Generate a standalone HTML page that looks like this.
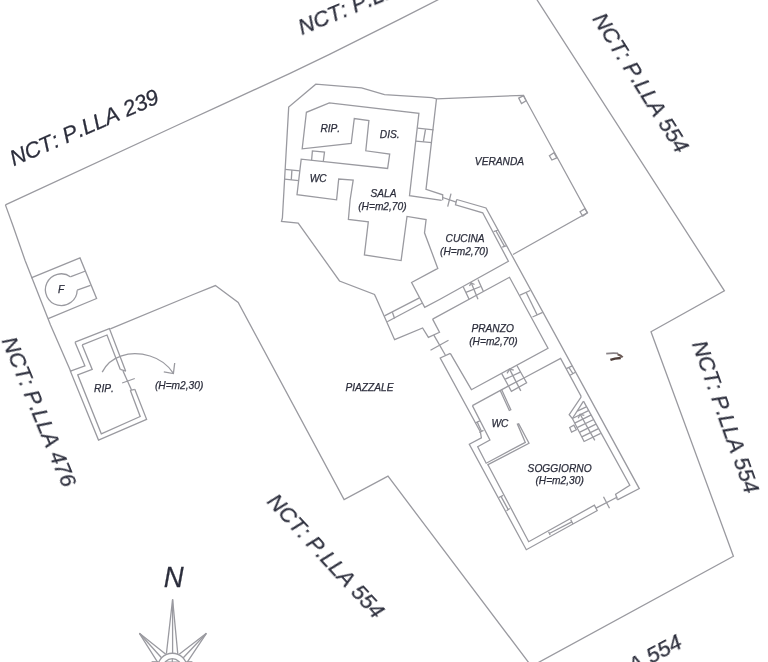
<!DOCTYPE html>
<html><head><meta charset="utf-8"><style>
html,body{margin:0;padding:0;background:#fff;}
svg{display:block;}
text{font-family:"Liberation Sans",sans-serif;fill:#2c2e3c;font-kerning:none;stroke:#2c2e3c;stroke-width:0.25px;}
</style></head><body>
<svg width="768" height="662" viewBox="0 0 768 662">
<defs><filter id="f" filterUnits="userSpaceOnUse" x="0" y="0" width="768" height="662"><feOffset dx="0" dy="0"/></filter></defs>
<rect width="768" height="662" fill="#fff"/>
<g fill="none" stroke="#9a9aa0" stroke-width="1.3" stroke-linejoin="miter">
<polyline points="5.4,204.9 180.0,124.0 220.0,105.7 290.0,73.4 330.0,54.2 400.0,19.1 439.5,-1.0"/>
<polyline points="5.4,204.9 12.7,225.0 25.0,260.2 50.5,325.0 71.0,372.0"/>
<polyline points="536.5,-1.0 724.4,290.8 651.0,331.8 733.4,556.2 537.5,663.0"/>
<polyline points="110.3,328.8 192.0,295.0 215.4,285.6 238.2,302.5 344.1,499.6 388.0,476.2 529.0,663.0"/>
<polyline points="31.2,277.8 80.0,257.9 96.6,298.5 48.2,318.6"/>
<polyline points="70.9,276.6 85.6,271.0"/>
<polyline points="77.1,290.2 90.5,285.4"/>
<polyline points="75.0,342.2 109.4,328.6 125.7,371.2"/>
<polyline points="134.8,389.3 146.6,419.3 98.5,440.1 70.4,371.2 84.9,365.8 75.0,342.2"/>
<polyline points="82.2,344.9 107.0,335.0 120.3,369.4"/>
<polyline points="130.3,390.3 140.2,416.5 101.3,433.8 77.7,374.8 92.2,369.4 82.2,344.9"/>
<polyline points="120.3,369.4 125.7,371.2"/>
<polyline points="130.3,390.3 134.8,389.3"/>
<polyline points="123.0,371.0 131.5,390.0"/>
<polyline points="122.1,383.0 134.8,378.5"/>
<polyline points="432.0,97.7 384.5,94.6 361.6,87.9 315.8,84.2 288.7,107.1 282.4,218.0 281.5,221.5 298.2,223.0 339.5,281.0 374.5,294.5 375.5,296.6 394.6,339.7 422.6,328.0 428.4,337.4 439.5,332.3 432.6,319.1"/>
<polyline points="432.0,97.7 436.5,98.8 523.3,95.3 587.4,212.8 513.0,254.5"/>
<polyline points="436.5,98.8 426.0,189.4 442.7,194.8 442.7,200.2"/>
<polyline points="456.7,199.5 486.0,208.0 639.3,488.6 617.4,499.8"/>
<polyline points="597.4,510.5 526.3,549.7 469.3,444.2 481.4,437.8 480.4,432.0 440.2,358.0 450.3,353.3"/>
<polyline points="456.7,199.5 455.5,204.9 482.7,212.8 508.4,261.2 440.0,299.2 424.7,307.4 411.6,282.5 437.8,268.4 424.5,232.8 426.1,219.5 407.0,216.4 401.1,260.6 364.4,255.0 368.3,221.9 348.4,219.5 350.1,200.0 353.2,180.0 338.7,179.0 336.6,199.8 297.0,194.6 301.2,159.2 387.6,168.5 389.7,154.0 365.8,150.8 368.9,120.6 354.3,118.5 351.2,143.5 302.2,148.8 306.4,112.3 329.3,102.9 418.9,113.3 409.5,195.6 441.7,200.3"/>
<polyline points="384.5,315.9 419.4,297.9"/>
<polyline points="387.2,321.7 422.0,303.2"/>
<polyline points="392.4,312.2 394.6,318.5"/>
<polyline points="432.6,319.1 509.5,277.3 548.0,348.3 471.4,389.7 450.3,353.3"/>
<polyline points="433.7,334.9 445.3,355.0"/>
<polyline points="430.5,350.3 448.5,340.2"/>
<polyline points="451.0,193.7 447.7,206.7"/>
<polyline points="442.7,197.5 456.2,202.2"/>
<polyline points="472.4,405.6 508.7,385.9"/>
<polyline points="523.9,378.0 560.6,358.4 580.9,396.0 580.9,397.4 569.2,414.6 572.4,418.5 584.1,441.5 600.7,433.3"/>
<polyline points="583.5,401.1 572.4,418.5"/>
<polyline points="581.8,436.9 598.4,428.7"/>
<polyline points="579.4,432.3 596.0,424.1"/>
<polyline points="577.1,427.7 593.7,419.5"/>
<polyline points="574.7,423.1 591.3,414.9"/>
<polyline points="572.4,418.5 589.0,410.3"/>
<polyline points="577.2,411.2 586.3,406.8"/>
<polyline points="580.1,414.3 594.8,440.4"/>
<polyline points="578.2,418.3 580.1,414.3 584.3,415.4"/>
<polyline points="501.6,373.4 511.4,391.3 526.6,382.7 516.9,365.5"/>
<polyline points="505.2,379.2 520.8,371.8"/>
<polyline points="509.5,369.1 520.8,390.9"/>
<polyline points="508.7,385.9 523.9,378.0"/>
<polyline points="507.1,373.4 509.5,369.1 513.8,370.2"/>
<polyline points="472.4,405.6 489.9,440.0 477.7,446.8 486.2,463.2 525.3,442.4 517.4,424.1 518.7,423.7 529.0,443.3 487.5,464.9"/>
<polyline points="500.1,390.2 509.3,410.5 510.8,409.8 501.6,389.6"/>
<polyline points="487.7,464.3 528.7,541.7 594.4,505.2 597.4,511.0"/>
<polyline points="583.5,401.1 629.8,485.3 615.6,494.3 617.4,499.8"/>
<polyline points="617.4,497.0 596.0,508.2"/>
<polyline points="603.5,496.8 609.5,508.2"/>
<polygon points="569.7,427.5 573.9,425.2 576.3,429.8 571.6,432.2"/>
<polygon points="518.7,98.1 523.6,95.6 526.1,100.8 521.5,103.6"/>
<polygon points="549.4,155.8 554.0,152.6 556.8,157.9 551.9,160.0"/>
<polygon points="580.0,211.8 584.9,208.6 587.4,212.8 582.8,216.0"/>
<polyline points="285.1,169.4 299.9,170.9"/>
<polyline points="284.5,179.2 298.7,180.6"/>
<polyline points="291.9,170.1 291.3,179.9"/>
<polyline points="311.6,160.3 312.4,150.9 324.5,152.1 323.3,161.4"/>
<polyline points="417.5,128.1 433.6,129.9"/>
<polyline points="415.9,141.1 432.0,142.6"/>
<polyline points="425.5,129.3 423.4,141.6"/>
<polyline points="493.6,231.6 498.3,230.0"/>
<polyline points="502.2,247.2 506.9,245.6"/>
<polyline points="496.0,231.0 504.5,246.4"/>
<polyline points="463.3,287.0 469.1,299.2"/>
<polyline points="478.0,279.6 483.3,291.2"/>
<polyline points="465.9,292.3 480.7,286.5"/>
<polyline points="471.2,282.8 478.0,299.2"/>
<polyline points="469.5,286.0 471.2,282.8 474.5,284.5"/>
<polyline points="520.0,295.2 530.2,290.5"/>
<polyline points="532.5,317.0 542.7,312.3"/>
<polyline points="526.2,292.5 537.2,315.0"/>
<polyline points="566.3,368.6 572.2,365.9"/>
<polyline points="570.0,375.2 575.4,372.2"/>
<polyline points="569.0,367.7 573.1,374.0"/>
<polyline points="475.1,423.0 479.8,420.9"/>
<polyline points="479.3,432.5 483.5,430.4"/>
<polyline points="477.2,422.0 481.5,431.5"/>
<polyline points="498.8,497.5 503.2,495.3"/>
<polyline points="506.5,510.7 509.8,508.5"/>
<polyline points="501.0,496.4 508.2,509.6"/>
<polyline points="548.6,531.8 550.1,535.1"/>
<polyline points="570.7,519.6 572.9,524.0"/>
<polyline points="549.3,533.5 571.8,521.8"/>
<polyline points="166.4,653.8 172.6,599.4 177.8,654.1"/>
<polyline points="172.6,599.4 172.6,653.3"/>
<polyline points="165.8,654.3 139.4,633.3 157.8,662.5"/>
<polyline points="139.4,633.3 161.5,657.8"/>
<polyline points="179.2,654.3 206.4,633.3 187.0,662.5"/>
<polyline points="206.4,633.3 183.3,657.8"/>
<polyline points="151.6,661.8 158.6,661.8"/>
<polyline points="186.2,661.8 192.4,661.8"/>
<path d="M606.2,353.6 C610,353.2 614,353 618,353.4" stroke="#8a8488" stroke-width="1.8"/>
<path d="M617.5,354.2 C619.8,354.8 621.6,355.8 622.6,357.4" stroke="#6a5a55" stroke-width="2"/>
<path d="M610.4,359.9 C613.5,358.7 617,358.2 620.8,358" stroke="#4e3e3a" stroke-width="2.3"/>
<path d="M70.7,276.9 A15.9,15.9 0 1 0 77.2,290.2"/>
<path d="M102.2,372.1 C110,356 130,350 150,356 C160,359 168,365 173.6,373.6"/>
<polyline points="163.8,371.8 173.4,373.6 174.7,363"/>
<circle cx="172.3" cy="668" r="14.75"/>
<circle cx="172.3" cy="668" r="9.3"/>
<path d="M166,662 L178.6,662 M172.3,659 L172.3,662" stroke-width="1.2"/>
</g>
<g filter="url(#f)">
<text x="13.7" y="166.3" font-size="22" font-style="italic" text-anchor="start" transform="rotate(-23.5 13.7 166.3)">NCT: P.LLA 239</text>
<text x="301.8" y="34.8" font-size="22" font-style="italic" text-anchor="start" transform="rotate(-22.5 301.8 34.8)">NCT: P.LLA 239</text>
<text x="592.3" y="18.7" font-size="22" font-style="italic" text-anchor="start" transform="rotate(57.9 592.3 18.7)">NCT: P.LLA 554</text>
<text x="2.1" y="340.5" font-size="22" font-style="italic" text-anchor="start" transform="rotate(67.45 2.1 340.5)">NCT: P.LLA 476</text>
<text x="692.2" y="343.7" font-size="22" font-style="italic" text-anchor="start" transform="rotate(70.45 692.2 343.7)">NCT: P.LLA 554</text>
<text x="266.0" y="502.3" font-size="22" font-style="italic" text-anchor="start" transform="rotate(47.3 266.0 502.3)">NCT: P.LLA 554</text>
<text x="542.1" y="721.9" font-size="22" font-style="italic" text-anchor="start" transform="rotate(-28.0 542.1 721.9)">NCT: P.LLA 554</text>
<text x="330.3" y="132.0" font-size="10.2" font-style="italic" text-anchor="middle">RIP.</text>
<text x="389.7" y="137.9" font-size="10.2" font-style="italic" text-anchor="middle">DIS.</text>
<text x="318.25" y="181.6" font-size="10.2" font-style="italic" text-anchor="middle">WC</text>
<text x="383.5" y="197.2" font-size="10.2" font-style="italic" text-anchor="middle">SALA</text>
<text x="382.4" y="209.7" font-size="10.2" font-style="italic" text-anchor="middle">(H=m2,70)</text>
<text x="499.5" y="164.9" font-size="10.2" font-style="italic" text-anchor="middle">VERANDA</text>
<text x="465.1" y="241.7" font-size="10.2" font-style="italic" text-anchor="middle">CUCINA</text>
<text x="464.2" y="255.0" font-size="10.2" font-style="italic" text-anchor="middle">(H=m2,70)</text>
<text x="492.65" y="332.1" font-size="10.2" font-style="italic" text-anchor="middle">PRANZO</text>
<text x="493.4" y="345.3" font-size="10.2" font-style="italic" text-anchor="middle">(H=m2,70)</text>
<text x="369.5" y="390.9" font-size="10.2" font-style="italic" text-anchor="middle">PIAZZALE</text>
<text x="500" y="427.3" font-size="10.2" font-style="italic" text-anchor="middle">WC</text>
<text x="559.6" y="471.9" font-size="10.2" font-style="italic" text-anchor="middle">SOGGIORNO</text>
<text x="559.6" y="483.9" font-size="10.2" font-style="italic" text-anchor="middle">(H=m2,30)</text>
<text x="104" y="392.1" font-size="10.2" font-style="italic" text-anchor="middle">RIP.</text>
<text x="154.9" y="389.1" font-size="10.2" font-style="italic" text-anchor="start">(H=m2,30)</text>
<text x="61" y="293.4" font-size="10.2" font-style="italic" text-anchor="middle">F</text>
<text x="0" y="0" font-size="29" font-style="italic" text-anchor="middle" stroke-width="0.15" transform="translate(173.6 587.4) scale(0.95 1)">N</text>
</g>
</svg>
</body></html>
